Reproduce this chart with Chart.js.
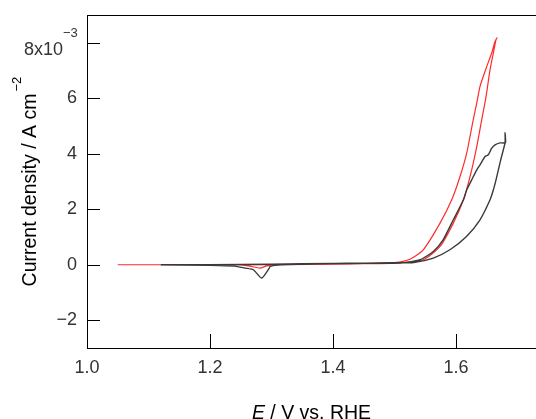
<!DOCTYPE html>
<html>
<head>
<meta charset="utf-8">
<script src="https://cdn.jsdelivr.net/npm/chart.js@4.4.0/dist/chart.umd.min.js"></script>
<style>
html, body { margin: 0; padding: 0; background: #fff; }
</style>
</head>
<body>
<canvas id="cv" width="536" height="419"></canvas>
<script>
// tick values
const xTicks = [1.0, 1.2, 1.4, 1.6];
const yTicks = [-2, 0, 2, 4, 6, 8];

// black CV (potential / V, current density / 1e-3 A cm-2)
const blackE = [1.12, 1.20, 1.30, 1.40, 1.45, 1.50, 1.531, 1.563, 1.590, 1.617, 1.639, 1.6553, 1.6607, 1.665, 1.6688, 1.674, 1.6797, 1.6797, 1.6805,
  1.677, 1.6715, 1.6634, 1.658, 1.6553, 1.6525, 1.6472, 1.639, 1.6337, 1.6255, 1.6174, 1.612, 1.5956, 1.579, 1.563, 1.5415, 1.509,
  1.45, 1.40, 1.35, 1.3138, 1.2976, 1.2964, 1.284, 1.2705, 1.257, 1.24, 1.20, 1.12];
const blackJ = [0.0, 0.0, 0.02, 0.05, 0.06, 0.07, 0.08, 0.24, 0.54, 1.02, 1.62, 2.34, 2.70, 3.06, 3.42, 3.90, 4.40, 4.76, 4.40,
  4.39, 4.39, 4.32, 4.20, 4.08, 3.96, 3.90, 3.60, 3.42, 3.06, 2.70, 2.34, 1.62, 0.90, 0.48, 0.18, 0.06,
  0.05, 0.04, 0.02, 0.0, -0.06, -0.12, -0.48, -0.18, -0.12, -0.05, -0.02, 0.0];

// red CV
const redE = [1.05, 1.12, 1.20, 1.30, 1.373, 1.387, 1.45, 1.50, 1.5468, 1.574, 1.5956, 1.612, 1.6228, 1.6337, 1.6418, 1.6488, 1.6553, 1.6607, 1.665, 1.6667,
  1.6634, 1.658, 1.650, 1.639, 1.6337, 1.628, 1.6174, 1.6065, 1.593, 1.574, 1.5468, 1.525, 1.50, 1.45, 1.40, 1.3138, 1.2922, 1.2813, 1.2623, 1.2407, 1.20, 1.10, 1.05];
const redJ = [0.0, 0.0, 0.0, 0.0, 0.02, 0.02, 0.04, 0.06, 0.18, 0.66, 1.50, 2.34, 3.18, 4.26, 5.23, 6.06, 7.03, 7.63, 8.11, 8.18,
  8.05, 7.63, 7.15, 6.43, 5.83, 5.23, 4.03, 3.18, 2.34, 1.50, 0.54, 0.20, 0.08, 0.04, 0.02, 0.0, -0.04, -0.12, -0.04, 0.0, 0.0, 0.0, 0.0];

const tickFont = { family: "'Liberation Sans', Arial, sans-serif", size: 18 };
const titleFont = "'Liberation Sans', Arial, sans-serif";

function pts(xs, ys) {
  return xs.map((x, i) => ({ x: x, y: ys[i] }));
}

const extras = {
  id: "extras",
  afterDraw(chart) {
    const ctx = chart.ctx;
    const a = chart.chartArea;
    const sx = chart.scales.x;
    const sy = chart.scales.y;
    ctx.save();
    ctx.strokeStyle = "#000";
    ctx.lineWidth = 1;
    ctx.beginPath();
    // top frame line
    ctx.moveTo(a.left, Math.round(a.top) + 0.5);
    ctx.lineTo(a.right, Math.round(a.top) + 0.5);
    // inward ticks
    for (const v of xTicks) {
      const px = Math.round(sx.getPixelForValue(v)) + 0.5;
      ctx.moveTo(px, a.bottom);
      ctx.lineTo(px, a.bottom - 14);
    }
    for (const v of yTicks) {
      const py = Math.round(sy.getPixelForValue(v)) + 0.5;
      ctx.moveTo(a.left, py);
      ctx.lineTo(a.left + 13, py);
    }
    ctx.stroke();

    // top tick label 8x10^-3
    ctx.fillStyle = "#333";
    const y8 = sy.getPixelForValue(8);
    ctx.font = "18px " + tickFont.family;
    ctx.textAlign = "right";
    ctx.textBaseline = "alphabetic";
    ctx.fillText("8x10", a.left - 24, y8 + 12);
    ctx.font = "13px " + tickFont.family;
    ctx.textAlign = "left";
    ctx.fillText("\u22123", a.left - 24, y8 - 6);

    // y title
    ctx.fillStyle = "#000";
    ctx.translate(36, (a.top + a.bottom) / 2 + 8.5);
    ctx.rotate(-Math.PI / 2);
    ctx.font = "19.5px " + titleFont;
    const main = "Current density / A cm";
    const w = ctx.measureText(main).width;
    ctx.textAlign = "left";
    ctx.fillText(main, -w / 2, 0);
    ctx.font = "13px " + titleFont;
    ctx.fillText("\u22122", w / 2 + 2, -15);
    ctx.setTransform(1, 0, 0, 1, 0, 0);

    // x title
    ctx.font = "italic 19.5px " + titleFont;
    const e = "E";
    const ew = ctx.measureText(e).width;
    ctx.font = "19.5px " + titleFont;
    const rest = " / V vs. RHE";
    const rw = ctx.measureText(rest).width;
    const x0 = (a.left + a.right) / 2 - (ew + rw) / 2;
    ctx.textAlign = "left";
    ctx.font = "italic 19.5px " + titleFont;
    ctx.fillText(e, x0, 419);
    ctx.font = "19.5px " + titleFont;
    ctx.fillText(rest, x0 + ew, 419);
    ctx.restore();
  }
};

new Chart(document.getElementById("cv"), {
  type: "scatter",
  data: {
    datasets: [
      {
        label: "black",
        data: pts(blackE, blackJ),
        showLine: true,
        borderColor: "#3a3a3a",
        borderWidth: 1.4,
        pointRadius: 0,
        tension: 0.2
      },
      {
        label: "red",
        data: pts(redE, redJ),
        showLine: true,
        borderColor: "#ff2a2a",
        borderWidth: 1.2,
        pointRadius: 0,
        tension: 0.2
      }
    ]
  },
  options: {
    responsive: false,
    animation: false,
    layout: { padding: { top: 15, right: 0, left: 0, bottom: 0 } },
    plugins: { legend: { display: false }, tooltip: { enabled: false } },
    scales: {
      x: {
        type: "linear",
        min: 1.0,
        max: 1.73,
        grid: { display: false, drawTicks: false },
        border: { display: true, color: "#000", width: 1 },
        afterBuildTicks: (s) => { s.ticks = xTicks.map((v) => ({ value: v })); },
        afterFit: (s) => { s.height = 71; s.paddingLeft = 0; s.paddingRight = 0; },
        ticks: {
          padding: 9,
          color: "#333",
          font: tickFont,
          maxRotation: 0,
          callback: (v) => Number(v).toFixed(1)
        }
      },
      y: {
        type: "linear",
        min: -3,
        max: 9,
        grid: { display: false, drawTicks: false },
        border: { display: true, color: "#000", width: 1 },
        afterBuildTicks: (s) => { s.ticks = yTicks.map((v) => ({ value: v })); },
        afterFit: (s) => { s.width = 87; s.paddingTop = 0; s.paddingBottom = 0; },
        ticks: {
          padding: 10,
          color: "#333",
          font: tickFont,
          callback: (v) => (v === 8 ? "" : v < 0 ? "\u2212" + (-v) : String(v))
        }
      }
    }
  },
  plugins: [extras]
});
</script>
</body>
</html>
